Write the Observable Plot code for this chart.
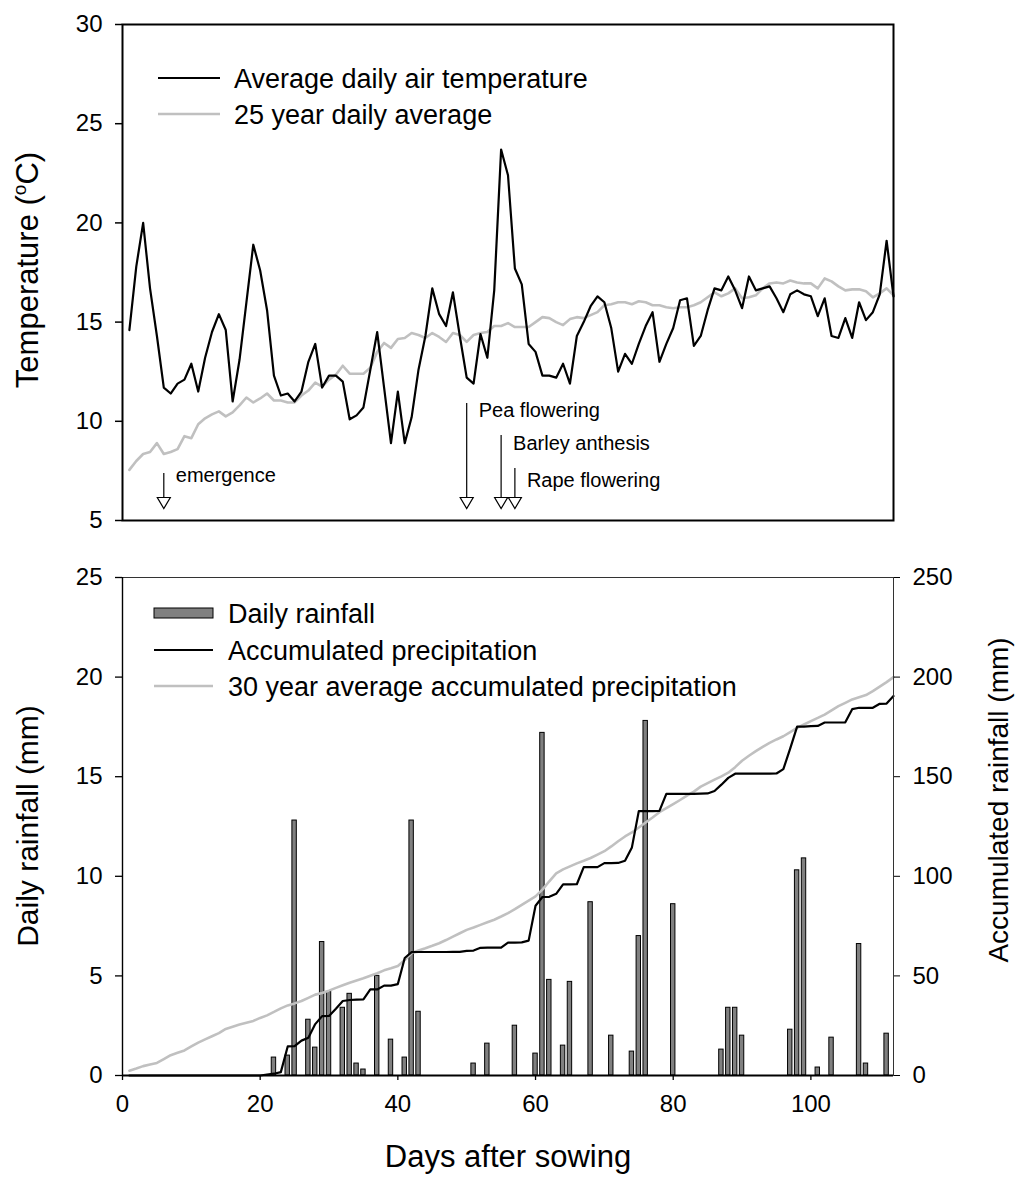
<!DOCTYPE html>
<html>
<head>
<meta charset="utf-8">
<script src="https://cdn.jsdelivr.net/npm/d3@7"></script>
<script src="https://cdn.jsdelivr.net/npm/@observablehq/plot@0.6"></script>
<style>
  body { margin: 0; background: #fff; }
  #chart { position: relative; width: 1018px; height: 1182px; }
  #chart svg { position: absolute; left: 0; }
</style>
</head>
<body>
<div id="chart"></div>
<script>
// ---- data: days after sowing ----
const days = d3.range(1, 113);

// average daily air temperature (°C)
const airTemp = [14.6,17.8,20.0,16.7,14.3,11.7,11.4,11.9,12.1,12.9,
  11.5,13.2,14.5,15.4,14.6,11.0,13.1,16.0,18.9,17.6,
  15.6,12.3,11.3,11.4,11.0,11.5,13.0,13.9,11.7,12.3,
  12.3,12.0,10.1,10.3,10.7,12.6,14.5,11.7,8.9,11.5,
  8.9,10.2,12.6,14.3,16.7,15.4,14.8,16.5,14.3,12.2,
  11.9,14.4,13.2,16.6,23.7,22.4,17.7,16.9,13.9,13.5,
  12.3,12.3,12.2,12.9,11.9,14.3,15.0,15.8,16.3,16.0,
  14.7,12.5,13.4,12.9,13.9,14.8,15.5,13.0,13.9,14.7,
  16.1,16.2,13.8,14.3,15.6,16.7,16.6,17.3,16.6,15.7,
  17.3,16.6,16.7,16.8,16.2,15.5,16.4,16.6,16.4,16.3,
  15.3,16.2,14.3,14.2,15.2,14.2,16.0,15.1,15.5,16.4,
  19.1,16.3];

// 25 year daily average temperature (°C)
const normTemp = [7.55,8.0,8.35,8.45,8.9,8.35,8.45,8.6,9.25,9.15,
  9.85,10.15,10.35,10.5,10.25,10.45,10.8,11.2,10.95,11.15,
  11.4,11.05,11.05,10.95,10.95,11.3,11.55,11.95,11.75,12.1,
  12.35,12.8,12.4,12.4,12.4,12.7,13.5,13.95,13.7,14.15,
  14.2,14.45,14.35,14.2,14.45,14.25,14.0,14.45,14.35,14.0,
  14.35,14.45,14.5,14.8,14.8,14.95,14.75,14.75,14.75,15.0,
  15.25,15.2,15.0,14.85,15.15,15.25,15.2,15.35,15.5,15.85,
  15.9,16.0,16.0,15.9,16.05,16.0,15.85,15.85,15.75,15.7,
  15.75,15.75,15.85,16.0,16.25,16.5,16.3,16.45,16.7,16.2,
  16.25,16.35,16.7,16.95,17.0,16.95,17.1,17.0,16.95,16.95,
  16.7,17.2,17.05,16.8,16.6,16.65,16.65,16.55,16.25,16.45,
  16.7,16.35];

// daily rainfall (mm) on the days it rained
const rainDays = [22,24,25,27,28,29,30,32,33,34,35,37,39,41,42,43,51,53,57,60,61,62,64,65,68,71,74,75,76,80,87,88,89,90,97,98,99,101,103,107,108,111];
const rainMm   = [0.9,1.0,12.8,2.8,1.4,6.7,4.2,3.4,4.1,0.6,0.3,5.0,1.8,0.9,12.8,3.2,0.6,1.6,2.5,1.1,17.2,4.8,1.5,4.7,8.7,2.0,1.2,7.0,17.8,8.6,1.3,3.4,3.4,2.0,2.3,10.3,10.9,0.4,1.9,6.6,0.6,2.1];

// accumulated precipitation (mm)
const accRain = [0,0,0,0,0,0,0,0,0,0,
  0,0,0,0,0,0,0,0,0,0,
  0.5,0.9,1.7,14.6,14.7,17.5,18.9,25.8,29.8,29.9,
  33.5,37.4,37.9,38.1,38.2,43.2,43.2,45.1,45.1,45.9,
  59.0,61.9,62.0,62.0,62.0,62.0,62.0,62.1,62.1,62.6,
  62.7,64.1,64.2,64.2,64.2,66.7,66.7,66.8,67.7,85.2,
  89.6,89.7,91.2,95.9,95.9,96.0,104.6,104.6,104.6,106.6,
  106.6,106.7,107.8,114.5,132.7,132.7,132.7,132.8,141.4,141.4,
  141.4,141.4,141.4,141.5,141.6,142.8,146.0,149.4,151.5,151.5,
  151.5,151.5,151.5,151.5,151.6,153.8,164.2,175.1,175.1,175.4,
  175.5,177.2,177.2,177.2,177.3,183.9,184.6,184.6,184.6,186.6,
  186.7,190.5];

// 30 year average accumulated precipitation (mm)
const normAcc = [2.4,3.5,4.7,5.5,6.3,8.2,10.2,11.4,12.6,14.6,
  16.5,18.1,19.7,21.3,23.4,24.5,25.6,26.5,27.4,28.9,
  30.2,31.9,33.7,35.2,36.2,37.4,39.0,40.6,41.4,42.6,
  44.0,45.3,46.6,47.7,48.8,50.1,51.3,52.8,53.8,55.0,
  58.0,61.5,62.8,63.9,65.1,66.4,68.0,69.7,71.4,73.1,
  74.3,75.6,76.9,78.2,79.8,81.5,83.5,85.7,87.8,89.9,
  93.3,97.5,101.5,103.5,105.0,106.5,107.8,109.2,110.9,112.6,
  115.0,117.6,120.0,122.0,124.5,127.0,129.5,132.2,134.2,136.2,
  138.3,140.5,142.5,145.0,146.8,148.5,150.2,152.0,154.8,158.0,
  160.5,162.8,165.0,167.0,168.7,170.3,172.4,174.5,176.2,177.9,
  179.5,181.2,183.3,185.4,187.1,188.8,189.9,191.0,193.0,195.2,
  197.5,200.0];

// crop development stages
const stageDays = [6, 50, 55, 57];
const stageLabels = ["emergence", "Pea flowering", "Barley anthesis", "Rape flowering"];

// axis ticks
const tempTicks = [5, 10, 15, 20, 25, 30];
const rainTicks = [0, 5, 10, 15, 20, 25];
const dayTicks = [0, 20, 40, 60, 80, 100];

// ---- layout ----
const FONT = '"Liberation Sans", Arial, Helvetica, sans-serif';
const W = 1018;
const arrowTop = {"emergence": 7.37, "Pea flowering": 10.9, "Barley anthesis": 9.28, "Rape flowering": 7.62};
const labelLevel = {"emergence": 7.27, "Pea flowering": 10.54, "Barley anthesis": 8.88, "Rape flowering": 7.02};
const arrowBase = 6.16; // top edge of the open arrowhead, in °C units

// open triangle pointing down, drawn from its top edge
const arrowHead = {
  draw(context) {
    context.moveTo(-6.5, 0);
    context.lineTo(6.5, 0);
    context.lineTo(0, 11);
    context.closePath();
  }
};

const tempRows = days.map((d, i) => ({day: d, air: airTemp[i], norm: normTemp[i]}));
const rainRows = rainDays.map((d, i) => ({day: d, mm: rainMm[i]}));
const accRows = days.map((d, i) => ({day: d, obs: accRain[i], norm: normAcc[i]}));
const stages = stageDays.map((d, i) => ({day: d, label: stageLabels[i]}));

// ---- upper panel: temperature ----
const topPlot = Plot.plot({
  width: W, height: 550,
  marginLeft: 122, marginRight: 125, marginTop: 24, marginBottom: 30,
  style: {fontFamily: FONT, fontSize: "24px", color: "black", background: "white", overflow: "visible"},
  x: {domain: [0, 112], axis: null},
  y: {domain: [5, 30], label: null},
  marks: [
    Plot.axisY({ticks: tempTicks, tickSize: 7, tickPadding: 13, label: null, fontSize: 24, strokeWidth: 1.5}),
    Plot.line(tempRows, {x: "day", y: "norm", stroke: "#c0c0c0", strokeWidth: 2.6}),
    Plot.line(tempRows, {x: "day", y: "air", stroke: "black", strokeWidth: 2.2}),
    Plot.ruleX(stages, {x: "day", y1: d => arrowTop[d.label], y2: arrowBase, stroke: "black", strokeWidth: 1.2}),
    Plot.dot(stages, {x: "day", y: arrowBase, symbol: arrowHead, fill: "white", stroke: "black", strokeWidth: 1.2}),
    Plot.text(stages, {x: "day", y: d => labelLevel[d.label], text: "label", textAnchor: "start", dx: 12, fontSize: 20}),
    Plot.frame({stroke: "black", strokeWidth: 2})
  ]
});

// ---- lower panel: rainfall ----
const bottomPlot = Plot.plot({
  width: W, height: 632,
  marginLeft: 122, marginRight: 125, marginTop: 27, marginBottom: 107,
  style: {fontFamily: FONT, fontSize: "24px", color: "black", background: "white", overflow: "visible"},
  x: {domain: [0, 112], label: null},
  y: {domain: [0, 25], label: null},
  marks: [
    Plot.rect(rainRows, {x1: d => d.day - 0.32, x2: d => d.day + 0.32, y1: 0, y2: "mm", fill: "#808080", stroke: "black", strokeWidth: 1}),
    // accumulated series share the panel through the right-hand axis (1 mm daily = 10 mm accumulated)
    Plot.line(accRows, {x: "day", y: d => d.norm / 10, stroke: "#c0c0c0", strokeWidth: 2.6}),
    Plot.line(accRows, {x: "day", y: d => d.obs / 10, stroke: "black", strokeWidth: 2.2}),
    Plot.frame({stroke: "#333", strokeWidth: 1}),
    Plot.ruleX([0], {stroke: "black", strokeWidth: 1.4}),
    Plot.ruleY([0], {stroke: "black", strokeWidth: 2}),
    Plot.axisY({anchor: "left", ticks: rainTicks, tickSize: 7, tickPadding: 13, label: null, fontSize: 24, strokeWidth: 1.3}),
    Plot.axisY({anchor: "right", ticks: rainTicks, tickFormat: v => String(v * 10), tickSize: 6, tickPadding: 13, label: null, fontSize: 24, strokeWidth: 1}),
    Plot.axisX({ticks: dayTicks, tickSize: 5, tickPadding: 14, label: null, fontSize: 24, strokeWidth: 1.3})
  ]
});

const chart = document.getElementById("chart");
topPlot.style.top = "0px";
bottomPlot.style.top = "550px";
chart.appendChild(topPlot);
chart.appendChild(bottomPlot);

// ---- titles and legends ----
function title(svg, x, y, size, parts, rotate) {
  const t = d3.select(svg).append("text")
    .attr("transform", `translate(${x},${y})` + (rotate ? " rotate(-90)" : ""))
    .attr("text-anchor", "middle")
    .attr("fill", "black")
    .style("font-family", FONT)
    .style("font-size", size + "px");
  for (const p of parts) {
    const s = t.append("tspan").text(p.text);
    if (p.sup) s.attr("dy", -12).style("font-size", "19px");
    if (p.after) s.attr("dy", 12);
  }
  return t;
}

title(topPlot, 38, 270, 31, [{text: "Temperature ("}, {text: "o", sup: true}, {text: "C)", after: true}], true);
title(bottomPlot, 38, 276, 30, [{text: "Daily rainfall (mm)"}], true);
title(bottomPlot, 1008, 250, 28, [{text: "Accumulated rainfall (mm)"}], true);
title(bottomPlot, 508, 617, 31, [{text: "Days after sowing"}], false);

function legend(svg, items) {
  const g = d3.select(svg).append("g")
    .attr("text-anchor", "start")
    .style("font-family", FONT);
  for (const it of items) {
    if (it.kind === "bar") {
      g.append("rect").attr("x", it.x0).attr("y", it.y - 5).attr("width", it.x1 - it.x0).attr("height", 10)
        .attr("fill", "#808080").attr("stroke", "black").attr("stroke-width", 1);
    } else {
      g.append("line").attr("x1", it.x0).attr("x2", it.x1).attr("y1", it.y).attr("y2", it.y)
        .attr("stroke", it.color).attr("stroke-width", it.width);
    }
    g.append("text").attr("x", it.tx).attr("y", it.y).attr("dy", "0.36em")
      .attr("text-anchor", "start")
      .attr("fill", "black").style("font-size", "27px").text(it.text);
  }
}

legend(topPlot, [
  {kind: "line", color: "black", width: 2.2, x0: 158, x1: 220, y: 78, tx: 234, text: "Average daily air temperature"},
  {kind: "line", color: "#c0c0c0", width: 2.6, x0: 158, x1: 220, y: 114, tx: 234, text: "25 year daily average"}
]);
legend(bottomPlot, [
  {kind: "bar", x0: 154, x1: 213, y: 63, tx: 228, text: "Daily rainfall"},
  {kind: "line", color: "black", width: 2.2, x0: 154, x1: 213, y: 100, tx: 228, text: "Accumulated precipitation"},
  {kind: "line", color: "#c0c0c0", width: 2.6, x0: 154, x1: 213, y: 136, tx: 228, text: "30 year average accumulated precipitation"}
]);
</script>
</body>
</html>
